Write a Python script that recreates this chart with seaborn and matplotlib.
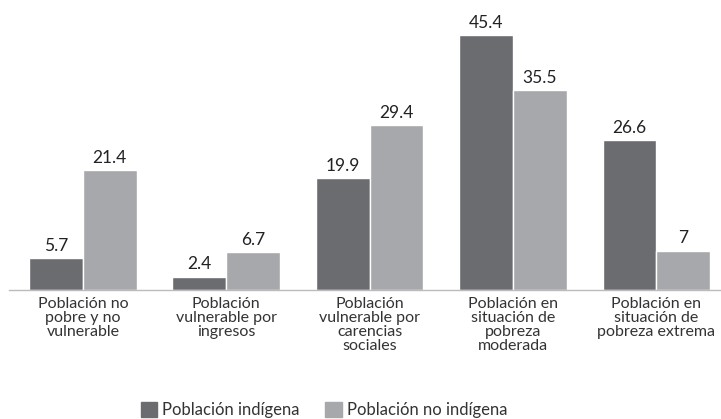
import matplotlib
matplotlib.use("Agg")
import matplotlib.pyplot as plt
import pandas as pd
import seaborn as sns

categories = [
    "Población no\npobre y no\nvulnerable",
    "Población\nvulnerable por\ningresos",
    "Población\nvulnerable por\ncarencias\nsociales",
    "Población en\nsituación de\npobreza\nmoderada",
    "Población en\nsituación de\npobreza extrema",
]
series = ["Población indígena", "Población no indígena"]
indigena = [5.7, 2.4, 19.9, 45.4, 26.6]
no_indigena = [21.4, 6.7, 29.4, 35.5, 7]
value_labels_ind = ["5.7", "2.4", "19.9", "45.4", "26.6"]
value_labels_no = ["21.4", "6.7", "29.4", "35.5", "7"]

colors = ["#6b6c70", "#a7a8ab"]

df = pd.DataFrame({
    "categoria": categories * 2,
    "grupo": [series[0]] * 5 + [series[1]] * 5,
    "valor": indigena + no_indigena,
})

sns.set_style("white")
plt.rcParams["font.family"] = ["Lato", "DejaVu Sans"]

fig = plt.figure(figsize=(7.21, 4.19), dpi=100)
ax = fig.add_axes([9 / 721, 1 - 290 / 419, 712 / 721, 280 / 419])

sns.barplot(
    data=df,
    x="categoria",
    y="valor",
    hue="grupo",
    palette=colors,
    width=0.75,
    saturation=1,
    ax=ax,
    legend=False,
)

for container, labels in zip(ax.containers, [value_labels_ind, value_labels_no]):
    ax.bar_label(container, labels=labels, padding=3, fontsize=12.5, color="#222222")

ax.set_xlim(-0.515, 4.45)
ax.set_ylim(0, 49.8)
ax.set_xlabel("")
ax.set_ylabel("")
ax.set_yticks([])
ax.tick_params(axis="x", length=0, pad=5, labelsize=11.5, labelcolor="#333333")
for lbl in ax.get_xticklabels():
    lbl.set_linespacing(1.0)

for side in ["top", "right", "left"]:
    ax.spines[side].set_visible(False)
ax.spines["bottom"].set_color("#bbbbbb")
ax.spines["bottom"].set_linewidth(1)

handles = [plt.Rectangle((0, 0), 1, 1, color=c) for c in colors]
fig.legend(
    handles,
    series,
    loc="center",
    bbox_to_anchor=(324 / 721, 1 - 410 / 419),
    ncol=2,
    frameon=False,
    prop={"size": 12},
    labelcolor="#333333",
    handlelength=1.0,
    handleheight=1.0,
    handletextpad=0.3,
    columnspacing=1.5,
)

fig.savefig("out.png", dpi=100)
